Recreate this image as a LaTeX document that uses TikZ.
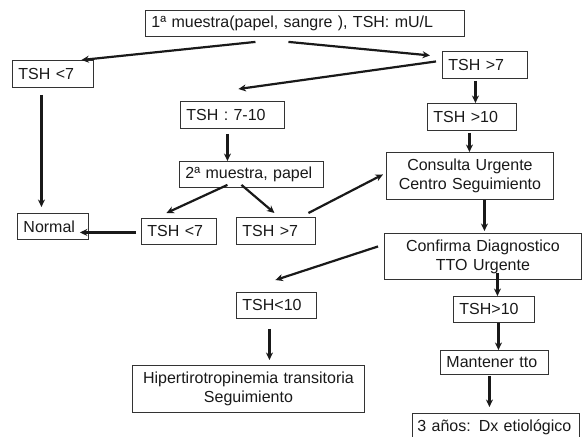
\documentclass[tikz,border=0pt]{standalone}
\usepackage{fontspec}
\setmainfont{Liberation Sans}
\usetikzlibrary{arrows.meta}
\tikzset{
  box/.style={draw=black!80, line width=0.9pt, inner xsep=6pt, inner ysep=0pt,
    anchor=north west, font=\fontsize{16}{19}\selectfont, text=black!90},
  lbox/.style={box, align=left},
  cbox/.style={box, align=center},
  arr/.style={line width=2.2pt, draw=black!90, -{Stealth[length=7.5pt,width=7pt]}},
}
\begin{document}
\begin{tikzpicture}[x=1pt,y=-1pt]
\useasboundingbox (0,0) rectangle (582,437);
% boxes
\node[lbox, text width=307pt, minimum height=26pt] (top) at (145,10) {1ª muestra(papel, sangre ), TSH: mU/L};
\node[lbox, text width=69pt, minimum height=27pt] (lt7) at (12,60) {TSH <7};
\node[lbox, text width=73pt, minimum height=27pt] (gt7) at (442,51) {TSH >7};
\node[lbox, text width=92pt, minimum height=27pt] (r710) at (180,101) {TSH : 7-10};
\node[lbox, text width=77pt, minimum height=27pt] (gt10) at (427,103) {TSH >10};
\node[lbox, text width=132pt, minimum height=26pt] (m2) at (179,161) {2ª muestra, papel};
\node[cbox, text width=155pt, minimum height=47pt] (cons) at (386,152) {Consulta Urgente\\Centro Seguimiento};
\node[lbox, text width=59pt, minimum height=26pt] (normal) at (17,213) {Normal};
\node[lbox, text width=63pt, minimum height=26pt] (lt7b) at (141,218) {TSH <7};
\node[lbox, text width=67pt, minimum height=27pt] (gt7b) at (236,217) {TSH >7};
\node[cbox, text width=185pt, minimum height=46pt] (conf) at (384,233) {Confirma Diagnostico\\TTO Urgente};
\node[lbox, text width=68pt, minimum height=26pt] (lt10) at (236,292) {TSH<10};
\node[lbox, text width=69pt, minimum height=26pt] (gt10b) at (453,296) {TSH>10};
\node[lbox, text width=96pt, minimum height=24pt] (mant) at (440,350) {Mantener tto};
\node[cbox, text width=220pt, minimum height=47pt] (hiper) at (132,365) {Hipertirotropinemia transitoria\\Seguimiento};
\node[lbox, text width=157pt, minimum height=27pt, inner xsep=5pt] (anos) at (412,413) {3 años: Dx etiológico};
% connectors
\draw[arr] ([xshift=-49.5pt,yshift=-5pt]top.south) -- ([xshift=28.5pt]lt7.north);
\draw[arr] ([xshift=-16.5pt,yshift=-5pt]top.south) -- ([xshift=-12pt,yshift=9.5pt]gt7.west);
\draw[arr] ([xshift=-6pt,yshift=3.5pt]gt7.west) -- ([xshift=6pt,yshift=12pt]r710.north);
\draw[arr] ([xshift=-9.5pt,yshift=-2pt]gt7.south) -- ([xshift=-9.5pt]gt7.south |- gt10.north);
\draw[arr] ([xshift=-2.5pt,yshift=-2pt]gt10.south) -- ([xshift=-2.5pt]gt10.south |- cons.north);
\draw[arr] ([xshift=-11.5pt,yshift=-7pt]lt7.south) -- ([xshift=-11.5pt,yshift=6pt]normal.north);
\draw[arr] ([xshift=-5pt,yshift=-5pt]r710.south) -- ([xshift=-5pt]r710.south |- m2.north);
\draw[arr] ([xshift=-24pt,yshift=3pt]m2.south) -- ([xshift=-12.5pt,yshift=5pt]lt7b.north);
\draw[arr] ([xshift=-10pt,yshift=3pt]m2.south) -- ([xshift=-1.5pt,yshift=4pt]gt7b.north);
\draw[arr] ([xshift=32.5pt,yshift=4pt]gt7b.north) -- ([xshift=-3pt,yshift=1.5pt]cons.west);
\draw[arr] ([xshift=-5pt,yshift=-1pt]lt7b.west) -- ([xshift=-9pt,yshift=-6pt]normal.east);
\draw[arr] ([xshift=14.5pt]cons.south) -- ([xshift=14.5pt,yshift=2pt]cons.south |- conf.north);
\draw[arr] ([xshift=-6pt,yshift=10pt]conf.west) -- ([xshift=-1pt,yshift=12pt]lt10.north);
\draw[arr] ([xshift=14.5pt,yshift=7pt]conf.south) -- ([xshift=14.5pt]conf.south |- gt10b.north);
\draw[arr] ([xshift=-7pt,yshift=-10pt]lt10.south) -- ([xshift=-7pt,yshift=5pt]lt10.south |- hiper.north);
\draw[arr] ([xshift=4.5pt]gt10b.south) -- ([xshift=4.5pt]gt10b.south |- mant.north);
\draw[arr] ([xshift=-5pt,yshift=-1pt]mant.south) -- ([xshift=-5pt,yshift=6pt]mant.south |- anos.north);
\end{tikzpicture}
\end{document}
